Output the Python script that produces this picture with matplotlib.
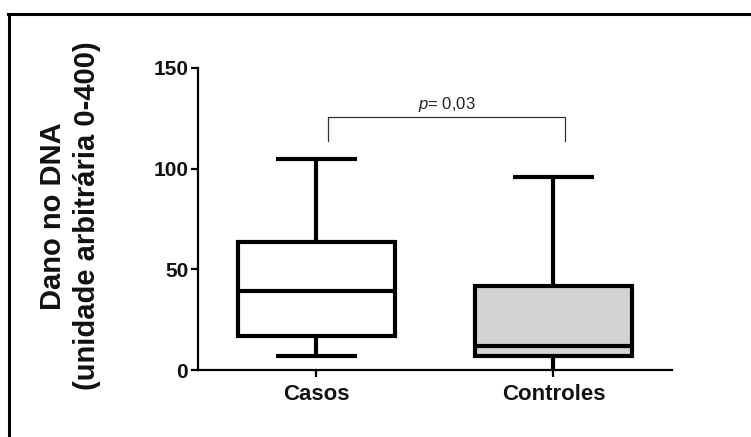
import matplotlib
matplotlib.use('Agg')
import matplotlib.pyplot as plt
from matplotlib.lines import Line2D

# box statistics
groups = ['Casos', 'Controles']
whislo = [7, 0]
q1 = [17, 7]
med = [39, 12]
q3 = [63.5, 41.5]
whishi = [105, 96]
fills = ['white', '#d4d4d4']

p_text = r'$\mathit{p}$= 0,03'
bracket_y = 125.5
bracket_drop = 113.5

plt.rcParams['font.family'] = ['Liberation Sans', 'DejaVu Sans']
plt.rcParams['mathtext.fontset'] = 'custom'
plt.rcParams['mathtext.it'] = 'Liberation Sans:italic'

fig = plt.figure(figsize=(7.51, 4.37), dpi=100)
ax = fig.add_axes([0.2636, 0.1533, 0.6312, 0.6911])

stats = []
for i in range(len(groups)):
    stats.append({'label': groups[i], 'whislo': whislo[i], 'q1': q1[i], 'med': med[i],
                  'q3': q3[i], 'whishi': whishi[i], 'fliers': []})

lw = 3.0
bp = ax.bxp(stats, positions=[1, 2], widths=0.66, capwidths=0.34, patch_artist=True,
            showfliers=False,
            boxprops=dict(linewidth=lw, edgecolor='black'),
            whiskerprops=dict(linewidth=lw, color='black'),
            capprops=dict(linewidth=lw, color='black'),
            medianprops=dict(linewidth=lw, color='black'))
for patch, c in zip(bp['boxes'], fills):
    patch.set_facecolor(c)
for cap in bp['caps']:
    cap.set_solid_capstyle('butt')
for w in bp['whiskers']:
    w.set_solid_capstyle('butt')
# the lower cap of Controles sits on the axis and is hidden there
bp['caps'][2].set_visible(False)

ax.set_xlim(0.5, 2.5)
ax.set_ylim(0, 150)
ax.set_yticks([0, 50, 100, 150])
ax.spines['top'].set_visible(False)
ax.spines['right'].set_visible(False)
for s in ['left', 'bottom']:
    ax.spines[s].set_linewidth(1.6)
    ax.spines[s].set_zorder(5)
ax.tick_params(width=1.6, length=5, labelsize=15, pad=2, labelcolor='#111111')
for lab in ax.get_xticklabels() + ax.get_yticklabels():
    lab.set_fontweight('bold')
ax.tick_params(axis='x', pad=5, labelsize=16)

# significance bracket
x1, x2 = 1.05, 2.05
ax.plot([x1, x1, x2, x2], [bracket_drop, bracket_y, bracket_y, bracket_drop],
        color='#333333', linewidth=0.9, clip_on=False)
ax.text((x1 + x2) / 2, bracket_y + 1.5, p_text, ha='center', va='bottom', fontsize=12,
        color='#222222')

fig.text(70 / 751, 1 - 216 / 437, 'Dano no DNA\n(unidade arbitrária 0-400)',
         rotation=90, ha='center', va='center', multialignment='center',
         fontsize=21, fontweight='bold', linespacing=1.25, color='#111111')

# frame on top and left of the picture
fig.add_artist(Line2D([9 / 751, 9 / 751], [0, 1 - 14 / 437], color='black', linewidth=2.2,
                      transform=fig.transFigure))
fig.add_artist(Line2D([8 / 751, 1], [1 - 14 / 437, 1 - 14 / 437], color='black', linewidth=2.2,
                      transform=fig.transFigure))

fig.savefig('out.png', dpi=100)
